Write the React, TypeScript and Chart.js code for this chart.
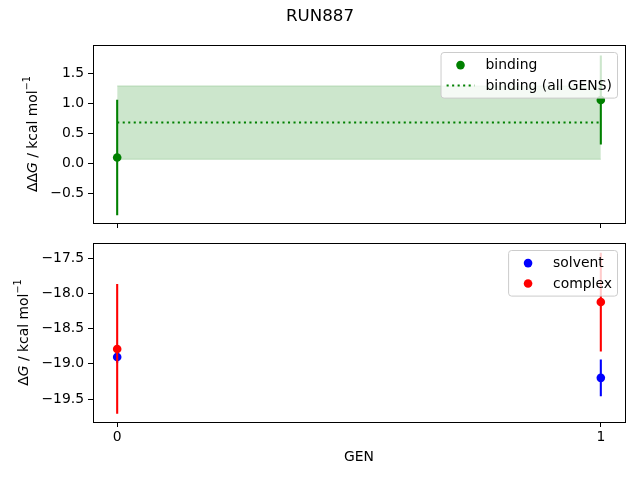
import React, { useEffect, useRef } from "react";
import { Chart, registerables } from "chart.js";
Chart.register(...registerables);

// ---------------- data ----------------
const figureTitle = "RUN887";
const xAxisTitle = "GEN";
const gens = [0, 1];
const genTickLabels = ["0", "1"];
const bindingValues = [0.1, 1.055];
const bindingErrors = [0.96, 0.74];
const bindingAllValue = 0.68;
const bindingAllError = 0.61;
const solventValues = [-18.905, -19.2];
const solventErrors = [0.08, 0.26];
const complexValues = [-18.79, -18.125];
const complexErrors = [0.92, 0.7];
const topYTicks = [-0.5, 0, 0.5, 1.0, 1.5];
const bottomYTicks = [-19.5, -19.0, -18.5, -18.0, -17.5];
const topYRange = [-0.99, 1.97];
const bottomYRange = [-19.826, -17.287];
const xRange = [-0.05, 1.05];

// ---------------- style ----------------
const FONT = '"DejaVu Sans", "Liberation Sans", sans-serif';
const FS = 13.9;
const LW = 2.08;
const DOT = [2.08, 3.43];
const MR = 4.3;
const GREEN = "#008000";
const BLUE = "#0000ff";
const RED = "#ff0000";

type LabelPart = { t: string; italic?: boolean; sup?: boolean };

const fmt = (v: number) => v.toFixed(1).replace("-", "\u2212");

function drawYLabel(chart: any, parts: LabelPart[], cx: number) {
  const ctx = chart.ctx;
  const a = chart.chartArea;
  const cy = (a.top + a.bottom) / 2;
  ctx.save();
  const fontFor = (p: LabelPart) =>
    `${p.italic ? "oblique " : ""}${p.sup ? FS * 0.7 : FS}px ${FONT}`;
  let total = 0;
  const widths = parts.map((p) => {
    ctx.font = fontFor(p);
    const w = ctx.measureText(p.t).width;
    total += w;
    return w;
  });
  ctx.translate(cx, cy);
  ctx.rotate(-Math.PI / 2);
  ctx.fillStyle = "#000";
  ctx.textBaseline = "middle";
  ctx.textAlign = "left";
  let x = -total / 2;
  parts.forEach((p, i) => {
    ctx.font = fontFor(p);
    ctx.fillText(p.t, x, p.sup ? -FS * 0.38 : 0);
    x += widths[i];
  });
  ctx.restore();
}

function drawFrame(chart: any) {
  const ctx = chart.ctx;
  const a = chart.chartArea;
  const l = Math.floor(a.left) + 0.5;
  const t = Math.floor(a.top) + 0.5;
  const r = Math.floor(a.right) + 0.5;
  const b = Math.floor(a.bottom) + 0.5;
  ctx.save();
  ctx.strokeStyle = "#000";
  ctx.lineWidth = 1;
  ctx.strokeRect(l, t, r - l, b - t);
  ctx.restore();
}

type LegendItem = { label: string; color: string; kind: "marker" | "dotted" };

function roundRect(ctx: any, x: number, y: number, w: number, h: number, r: number) {
  ctx.beginPath();
  ctx.moveTo(x + r, y);
  ctx.lineTo(x + w - r, y);
  ctx.quadraticCurveTo(x + w, y, x + w, y + r);
  ctx.lineTo(x + w, y + h - r);
  ctx.quadraticCurveTo(x + w, y + h, x + w - r, y + h);
  ctx.lineTo(x + r, y + h);
  ctx.quadraticCurveTo(x, y + h, x, y + h - r);
  ctx.lineTo(x, y + r);
  ctx.quadraticCurveTo(x, y, x + r, y);
  ctx.closePath();
}

function drawLegend(chart: any, items: LegendItem[]) {
  const ctx = chart.ctx;
  const a = chart.chartArea;
  ctx.save();
  ctx.font = `${FS}px ${FONT}`;
  const pad = 0.4 * FS;
  const handleLen = 2 * FS;
  const handleTextPad = 0.8 * FS;
  const maxTw = Math.max(...items.map((it) => ctx.measureText(it.label).width));
  const w = pad + handleLen + handleTextPad + maxTw + pad;
  const firstRow = 12.6;
  const rowStep = 20.4;
  const h = firstRow + rowStep * (items.length - 1) + 12.6;
  const right = a.right - 7.5;
  const top = a.top + 7.5;
  const left = right - w;
  roundRect(ctx, left, top, w, h, 3);
  ctx.fillStyle = "rgba(255,255,255,0.8)";
  ctx.fill();
  ctx.strokeStyle = "#cccccc";
  ctx.lineWidth = 1;
  ctx.stroke();
  items.forEach((it, i) => {
    const y = top + firstRow + i * rowStep;
    const hx = left + pad;
    if (it.kind === "marker") {
      ctx.beginPath();
      ctx.arc(hx + handleLen / 2, y, MR, 0, Math.PI * 2);
      ctx.fillStyle = it.color;
      ctx.fill();
    } else {
      ctx.beginPath();
      ctx.setLineDash(DOT);
      ctx.lineCap = "butt";
      ctx.moveTo(hx, y);
      ctx.lineTo(hx + handleLen, y);
      ctx.strokeStyle = it.color;
      ctx.lineWidth = LW;
      ctx.stroke();
      ctx.setLineDash([]);
    }
    ctx.fillStyle = "#000";
    ctx.textBaseline = "middle";
    ctx.textAlign = "left";
    ctx.fillText(it.label, hx + handleLen + handleTextPad, y + 0.5);
  });
  ctx.restore();
}

const errorData = (vals: number[], errs: number[]) =>
  gens.flatMap((g, i) => [
    { x: g, y: vals[i] - errs[i] },
    { x: g, y: vals[i] + errs[i] },
    { x: g, y: null as any },
  ]);

const pointData = (vals: number[]) => gens.map((g, i) => ({ x: g, y: vals[i] }));

function errorDataset(vals: number[], errs: number[], color: string, order: number) {
  return {
    data: errorData(vals, errs),
    showLine: true,
    spanGaps: false,
    borderColor: color,
    borderWidth: LW,
    borderCapStyle: "butt",
    pointRadius: 0,
    pointHoverRadius: 0,
    fill: false,
    order,
  };
}

function pointDataset(vals: number[], color: string, order: number) {
  return {
    data: pointData(vals),
    showLine: false,
    backgroundColor: color,
    borderColor: color,
    borderWidth: 0,
    pointRadius: MR,
    pointHoverRadius: MR,
    pointBorderWidth: 0,
    order,
  };
}

function xScale(showLabels: boolean, height: number) {
  return {
    type: "linear",
    position: "bottom",
    min: xRange[0],
    max: xRange[1],
    afterBuildTicks: (s: any) => {
      s.ticks = gens.map((v) => ({ value: v }));
    },
    afterFit: (s: any) => {
      s.height = height;
      s.paddingLeft = 0;
      s.paddingRight = 0;
      s.paddingTop = 0;
      s.paddingBottom = 0;
    },
    ticks: {
      display: showLabels,
      autoSkip: false,
      maxRotation: 0,
      padding: 2,
      color: "#000",
      font: { family: FONT, size: FS },
      callback: (v: any) => {
        const i = gens.indexOf(Number(v));
        return i >= 0 ? genTickLabels[i] : "";
      },
    },
    grid: {
      drawOnChartArea: false,
      drawTicks: true,
      tickLength: 5,
      tickWidth: 1,
      tickColor: "#000",
    },
    border: { display: false },
    title: showLabels
      ? {
          display: true,
          text: xAxisTitle,
          color: "#000",
          font: { family: FONT, size: FS },
          padding: { top: 0, bottom: 14 },
        }
      : { display: false },
  };
}

function yScale(range: number[], tickVals: number[]) {
  return {
    type: "linear",
    position: "left",
    min: range[0],
    max: range[1],
    afterBuildTicks: (s: any) => {
      s.ticks = tickVals.map((v) => ({ value: v }));
    },
    afterFit: (s: any) => {
      s.width = 93;
      s.paddingLeft = 0;
      s.paddingRight = 0;
      s.paddingTop = 0;
      s.paddingBottom = 0;
    },
    ticks: {
      padding: 4,
      color: "#000",
      font: { family: FONT, size: FS },
      callback: (v: any) => fmt(Number(v)),
    },
    grid: {
      drawOnChartArea: false,
      drawTicks: true,
      tickLength: 5,
      tickWidth: 1,
      tickColor: "#000",
    },
    border: { display: false },
  };
}

const baseOptions = {
  responsive: false,
  animation: false as const,
  devicePixelRatio: 1,
  events: [],
  plugins: { legend: { display: false }, tooltip: { enabled: false }, title: { display: false } },
};

export default function App() {
  const topRef = useRef<HTMLCanvasElement>(null);
  const botRef = useRef<HTMLCanvasElement>(null);

  useEffect(() => {
    const topChart = new Chart(topRef.current as HTMLCanvasElement, {
      type: "scatter",
      data: {
        datasets: [
          pointDataset(bindingValues, GREEN, 0),
          errorDataset(bindingValues, bindingErrors, GREEN, 1),
          {
            data: [
              { x: gens[0], y: bindingAllValue },
              { x: gens[gens.length - 1], y: bindingAllValue },
            ],
            showLine: true,
            borderColor: GREEN,
            borderWidth: LW,
            borderDash: DOT,
            borderCapStyle: "butt",
            pointRadius: 0,
            fill: false,
            order: 2,
          },
          {
            data: [
              { x: gens[0], y: bindingAllValue + bindingAllError },
              { x: gens[gens.length - 1], y: bindingAllValue + bindingAllError },
            ],
            showLine: true,
            borderColor: "rgba(0,128,0,0.2)",
            borderWidth: 1,
            backgroundColor: "rgba(0,128,0,0.2)",
            pointRadius: 0,
            fill: "+1",
            order: 3,
          },
          {
            data: [
              { x: gens[0], y: bindingAllValue - bindingAllError },
              { x: gens[gens.length - 1], y: bindingAllValue - bindingAllError },
            ],
            showLine: true,
            borderColor: "rgba(0,128,0,0.2)",
            borderWidth: 1,
            pointRadius: 0,
            fill: false,
            order: 4,
          },
        ] as any,
      },
      options: {
        ...baseOptions,
        layout: { padding: { top: 45, left: 0, right: 15, bottom: 0 } },
        scales: {
          x: xScale(false, 10),
          y: yScale(topYRange, topYTicks),
        } as any,
      } as any,
      plugins: [
        {
          id: "topDecor",
          afterDatasetsDraw(chart: any) {
            drawFrame(chart);
            drawLegend(chart, [
              { label: "binding", color: GREEN, kind: "marker" },
              { label: "binding (all GENS)", color: GREEN, kind: "dotted" },
            ]);
          },
          afterDraw(chart: any) {
            drawYLabel(
              chart,
              [{ t: "\u0394\u0394" }, { t: "G", italic: true }, { t: " / kcal mol" }, { t: "\u22121", sup: true }],
              33
            );
            const ctx = chart.ctx;
            ctx.save();
            ctx.font = `${FS * 1.2}px ${FONT}`;
            ctx.fillStyle = "#000";
            ctx.textAlign = "center";
            ctx.textBaseline = "middle";
            ctx.fillText(figureTitle, 320, 17);
            ctx.restore();
          },
        },
      ],
    });

    const botChart = new Chart(botRef.current as HTMLCanvasElement, {
      type: "scatter",
      data: {
        datasets: [
          pointDataset(complexValues, RED, 0),
          errorDataset(complexValues, complexErrors, RED, 1),
          pointDataset(solventValues, BLUE, 2),
          errorDataset(solventValues, solventErrors, BLUE, 3),
        ] as any,
      },
      options: {
        ...baseOptions,
        layout: { padding: { top: 10, left: 0, right: 15, bottom: 0 } },
        scales: {
          x: xScale(true, 58),
          y: yScale(bottomYRange, bottomYTicks),
        } as any,
      } as any,
      plugins: [
        {
          id: "botDecor",
          afterDatasetsDraw(chart: any) {
            drawFrame(chart);
            drawLegend(chart, [
              { label: "solvent", color: BLUE, kind: "marker" },
              { label: "complex", color: RED, kind: "marker" },
            ]);
          },
          afterDraw(chart: any) {
            drawYLabel(
              chart,
              [{ t: "\u0394" }, { t: "G", italic: true }, { t: " / kcal mol" }, { t: "\u22121", sup: true }],
              24
            );
          },
        },
      ],
    });

    return () => {
      topChart.destroy();
      botChart.destroy();
    };
  }, []);

  return (
    <div
      style={{
        position: "absolute",
        left: 0,
        top: 0,
        width: 640,
        height: 480,
        background: "#fff",
      }}
    >
      <canvas
        ref={topRef}
        width={640}
        height={233}
        style={{ position: "absolute", left: 0, top: 0, width: 640, height: 233, display: "block" }}
      />
      <canvas
        ref={botRef}
        width={640}
        height={247}
        style={{ position: "absolute", left: 0, top: 233, width: 640, height: 247, display: "block" }}
      />
    </div>
  );
}
